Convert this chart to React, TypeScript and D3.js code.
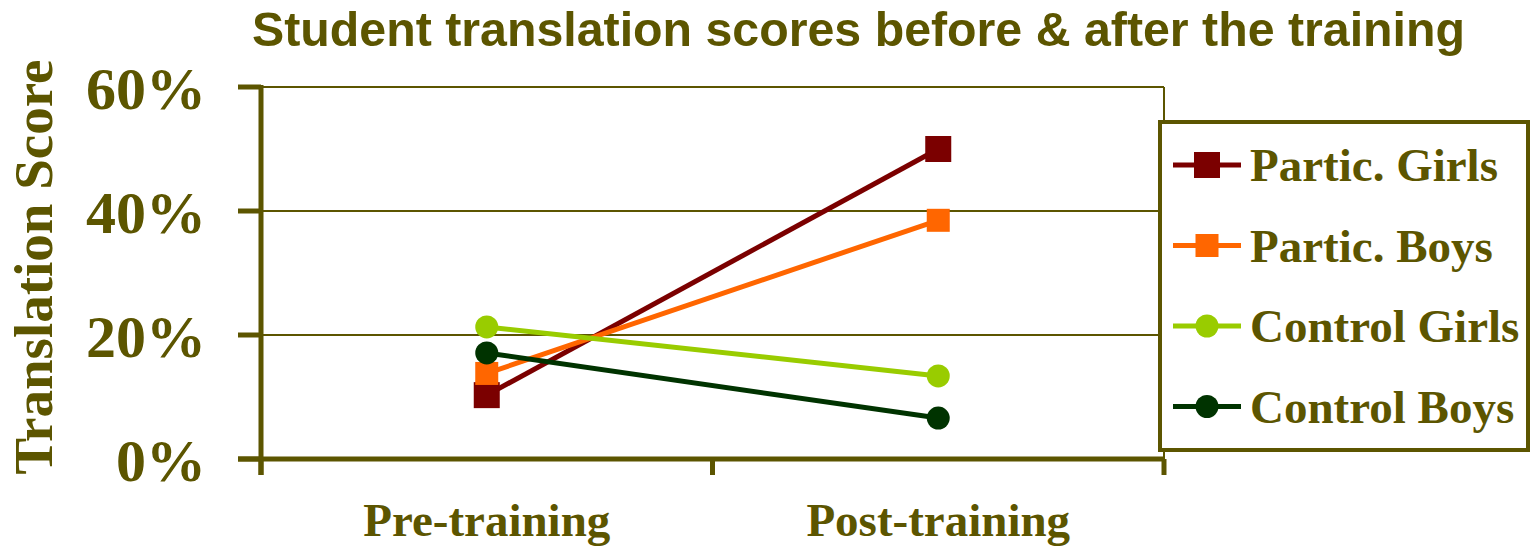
import React from "react";
import * as d3 from "d3";

const categories = ["Pre-training", "Post-training"];
const seriesNames = ["Partic. Girls", "Partic. Boys", "Control Girls", "Control Boys"];
const particGirls = [0.103, 0.5];
const particBoys = [0.138, 0.385];
const controlGirls = [0.213, 0.134];
const controlBoys = [0.171, 0.066];
const yTicks = [0, 0.2, 0.4, 0.6];
const title = "Student translation scores before & after the training";
const yTitle = "Translation Score";

const OLIVE = "#5C5500";
const SERIF = "'Liberation Serif', 'Times New Roman', serif";
const SANS = "'Liberation Sans', Arial, sans-serif";

const series = [
  { name: seriesNames[0], values: particGirls, color: "#7B0000", shape: "square", size: 26 },
  { name: seriesNames[1], values: particBoys, color: "#FF6600", shape: "square", size: 23 },
  { name: seriesNames[2], values: controlGirls, color: "#99CC00", shape: "circle", size: 23 },
  { name: seriesNames[3], values: controlBoys, color: "#003300", shape: "circle", size: 23 },
];

function Marker({ x, y, shape, size, color }: any) {
  if (shape === "square") {
    return <rect x={x - size / 2} y={y - size / 2} width={size} height={size} fill={color} />;
  }
  return <circle cx={x} cy={y} r={size / 2} fill={color} />;
}

export default function App() {
  const W = 1530;
  const H = 548;
  const left = 261;
  const right = 1164;
  const top = 87;
  const bottom = 459;

  const x = d3.scaleBand<string>().domain(categories).range([left, right]).paddingInner(0).paddingOuter(0);
  const y = d3.scaleLinear().domain([0, 0.6]).range([bottom, top]);
  const cx = (c: string) => (x(c) as number) + x.bandwidth() / 2;
  const line = d3
    .line<number>()
    .x((_, i) => cx(categories[i]))
    .y((v) => y(v));

  const boundaries = [left, ...categories.map((c) => (x(c) as number) + x.bandwidth())];

  const legX = 1160;
  const legY = 122;
  const legW = 368;
  const legH = 328;
  const rowY0 = 165;
  const rowStep = 80.5;

  return (
    <svg width={W} height={H} style={{ position: "absolute", left: 0, top: 0, background: "#fff" }}>
      <rect x={0} y={0} width={W} height={H} fill="#fff" />
      {/* title */}
      <text
        x={252}
        y={46}
        fontFamily={SANS}
        fontWeight="bold"
        fontSize={48}
        fill={OLIVE}
        textLength={1213}
        lengthAdjust="spacingAndGlyphs"
      >
        {title}
      </text>

      {/* gridlines */}
      {yTicks
        .filter((t) => t > 0)
        .map((t) => (
          <line key={t} x1={left} x2={right} y1={y(t)} y2={y(t)} stroke={OLIVE} strokeWidth={2} />
        ))}
      {/* plot right border */}
      <line x1={right} x2={right} y1={top} y2={bottom} stroke={OLIVE} strokeWidth={2} />

      {/* y axis */}
      <line x1={left} x2={left} y1={top - 2} y2={bottom + 16} stroke={OLIVE} strokeWidth={5} />
      {yTicks.map((t) => (
        <g key={t}>
          <line x1={238} x2={left} y1={y(t)} y2={y(t)} stroke={OLIVE} strokeWidth={5} />
          <text
            x={206}
            y={y(t) + 22}
            textAnchor="end"
            fontFamily={SERIF}
            fontWeight="bold"
            fontSize={60}
            fill={OLIVE}
          >
            {d3.format(".0%")(t)}
          </text>
        </g>
      ))}
      {/* x axis */}
      <line x1={238} x2={right} y1={bottom} y2={bottom} stroke={OLIVE} strokeWidth={5} />
      {boundaries.map((b, i) => (
        <line key={i} x1={b} x2={b} y1={bottom} y2={bottom + 16} stroke={OLIVE} strokeWidth={5} />
      ))}
      {categories.map((c) => (
        <text
          key={c}
          x={cx(c)}
          y={536}
          textAnchor="middle"
          fontFamily={SERIF}
          fontWeight="bold"
          fontSize={47}
          fill={OLIVE}
        >
          {c}
        </text>
      ))}

      {/* y title */}
      <text
        transform={`translate(52, 267) rotate(-90)`}
        textAnchor="middle"
        fontFamily={SERIF}
        fontWeight="bold"
        fontSize={55}
        fill={OLIVE}
      >
        {yTitle}
      </text>

      {/* series lines */}
      {series.map((s) => (
        <path key={s.name} d={line(s.values) || ""} fill="none" stroke={s.color} strokeWidth={5} />
      ))}
      {series.map((s) =>
        s.values.map((v, i) => (
          <Marker key={s.name + i} x={cx(categories[i])} y={y(v)} shape={s.shape} size={s.size} color={s.color} />
        ))
      )}

      {/* legend */}
      <rect x={legX} y={legY} width={legW} height={legH} fill="#fff" stroke={OLIVE} strokeWidth={4} />
      {series.map((s, i) => {
        const ry = rowY0 + i * rowStep;
        return (
          <g key={s.name}>
            <line x1={1173} x2={1241} y1={ry} y2={ry} stroke={s.color} strokeWidth={5} />
            <Marker x={1207} y={ry} shape={s.shape} size={s.size} color={s.color} />
            <text x={1250} y={ry + 16} fontFamily={SERIF} fontWeight="bold" fontSize={47} fill={OLIVE}>
              {s.name}
            </text>
          </g>
        );
      })}
    </svg>
  );
}
